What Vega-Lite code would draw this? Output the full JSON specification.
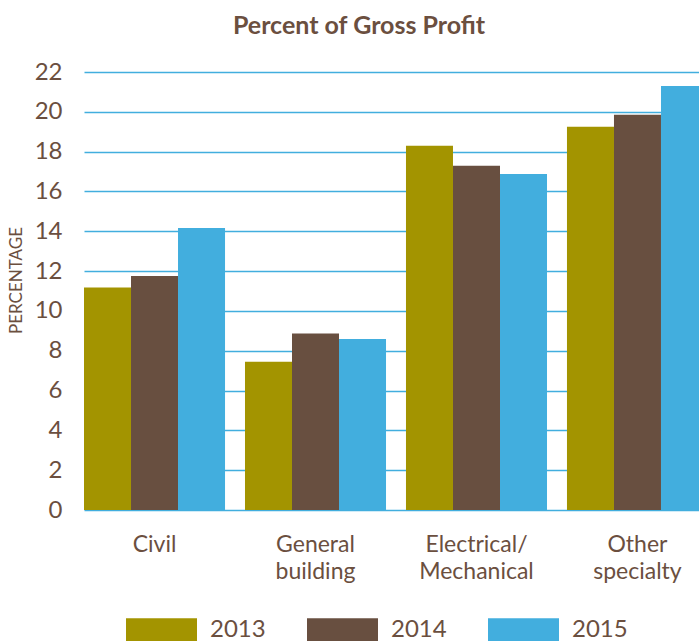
{
  "$schema": "https://vega.github.io/schema/vega-lite/v6.json",
  "autosize": {"type": "none"},
  "padding": {"left": 71, "top": 72, "right": 0, "bottom": 131},
  "width": 628,
  "height": 438,
  "background": "white",
  "title": {
    "text": "Percent of Gross Profit",
    "anchor": "middle",
    "dx": -26,
    "offset": 21,
    "font": "Lato",
    "fontSize": 25,
    "fontWeight": "bold",
    "color": "#6b4f3f"
  },
  "data": {
    "values": [
      {"category": "Civil", "year": "2013", "value": 11.18},
      {"category": "Civil", "year": "2014", "value": 11.75},
      {"category": "Civil", "year": "2015", "value": 14.16},
      {"category": "General building", "year": "2013", "value": 7.45},
      {"category": "General building", "year": "2014", "value": 8.86},
      {"category": "General building", "year": "2015", "value": 8.59},
      {"category": "Electrical/Mechanical", "year": "2013", "value": 18.29},
      {"category": "Electrical/Mechanical", "year": "2014", "value": 17.29},
      {"category": "Electrical/Mechanical", "year": "2015", "value": 16.88},
      {"category": "Other specialty", "year": "2013", "value": 19.25},
      {"category": "Other specialty", "year": "2014", "value": 19.85},
      {"category": "Other specialty", "year": "2015", "value": 21.3}
    ]
  },
  "mark": {"type": "bar", "clip": true},
  "encoding": {
    "x": {
      "field": "category",
      "type": "nominal",
      "sort": ["Civil", "General building", "Electrical/Mechanical", "Other specialty"],
      "scale": {"range": [13, 637], "paddingInner": 0.124, "paddingOuter": 0},
      "axis": {
        "title": null,
        "domain": false,
        "ticks": false,
        "grid": false,
        "labelAngle": 0,
        "labelFont": "Lato",
        "labelFontSize": 23,
        "labelColor": "#6b4f3f",
        "labelBaseline": "top",
        "labelPadding": 23,
        "labelLineHeight": 27,
        "labelExpr": "datum.value == 'General building' ? ['General', 'building'] : datum.value == 'Electrical/Mechanical' ? ['Electrical/', 'Mechanical'] : datum.value == 'Other specialty' ? ['Other', 'specialty'] : datum.value"
      }
    },
    "xOffset": {
      "field": "year",
      "type": "nominal",
      "scale": {"paddingInner": 0, "paddingOuter": 0}
    },
    "y": {
      "field": "value",
      "type": "quantitative",
      "scale": {"domain": [0, 22], "nice": false},
      "axis": {
        "title": "PERCENTAGE",
        "titleFont": "Lato",
        "titleFontSize": 17,
        "titleFontWeight": "normal",
        "titleColor": "#6b4f3f",
        "titlePadding": 9,
        "titleY": 208,
        "values": [0, 2, 4, 6, 8, 10, 12, 14, 16, 18, 20, 22],
        "domain": false,
        "ticks": false,
        "grid": true,
        "gridColor": "#42aede",
        "gridWidth": 1.4,
        "gridOpacity": 1,
        "labelFont": "Lato",
        "labelFontSize": 24,
        "labelColor": "#6b4f3f",
        "labelPadding": 9
      }
    },
    "color": {
      "field": "year",
      "type": "nominal",
      "scale": {"domain": ["2013", "2014", "2015"], "range": ["#a39400", "#684f40", "#42aede"]},
      "legend": {
        "title": null,
        "orient": "none",
        "direction": "horizontal",
        "legendX": 55,
        "legendY": 522,
        "padding": 0,
        "symbolType": "M-1,-0.324H1V0.324H-1Z",
        "symbolSize": 5041,
        "symbolStrokeWidth": 0,
        "symbolOpacity": 1,
        "labelFont": "Lato",
        "labelFontSize": 24,
        "labelColor": "#6b4f3f",
        "labelOffset": 13,
        "columnPadding": 41
      }
    }
  },
  "config": {
    "view": {"stroke": null}
  }
}
